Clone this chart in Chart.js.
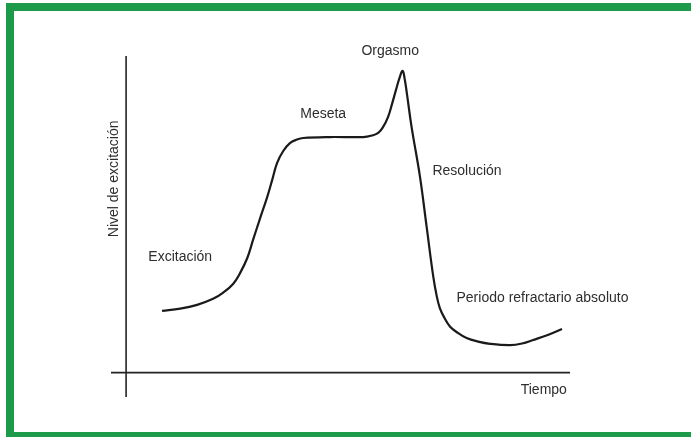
<!DOCTYPE html>
<html>
<head>
<meta charset="utf-8">
<script src="https://cdn.jsdelivr.net/npm/chart.js@4/dist/chart.umd.min.js"></script>
<style>
  html, body { margin: 0; padding: 0; background: #fff; overflow: hidden; }
  body { width: 691px; height: 437px; position: relative; }
  .bar { position: absolute; background: #1d994a; }
  #top { left: 6px; top: 3px; width: 685px; height: 8px; }
  #left { left: 6px; top: 3px; width: 8px; height: 434px; }
  #bottom { left: 6px; top: 432px; width: 685px; height: 5px; }
  #wrap { position: absolute; left: 0; top: 0; width: 691px; height: 437px; overflow: hidden; }
  #c { display: block; }
</style>
</head>
<body>
<div class="bar" id="top"></div>
<div class="bar" id="left"></div>
<div class="bar" id="bottom"></div>
<div id="wrap"><canvas id="c" width="691" height="437"></canvas></div>
<script>
// Time (x) and arousal level (y) of the response curve
const tiempo = [8.1, 12.2, 16.0, 19.6, 21.8, 24.1, 25.7, 27.3, 28.6, 30.2, 31.8, 32.9, 34.0, 35.4, 36.9, 38.5, 39.9,
  45.9, 53.4, 55.4, 56.8, 57.9, 59.0, 59.9, 60.8, 61.6, 62.3, 62.8, 63.3, 64.3, 66.2, 67.7, 69.2, 70.0, 70.7,
  71.6, 73.0, 74.8, 76.7, 79.3, 82.0, 86.5, 89.2, 91.7, 95.0, 98.2];
const nivel = [19.5, 20.2, 21.4, 23.3, 25.2, 28.0, 31.5, 36.2, 41.9, 48.8, 55.5, 60.8, 66.2, 70.0, 72.5, 73.6, 74.1,
  74.4, 74.4, 74.9, 75.7, 77.6, 80.7, 84.8, 89.3, 93.1, 95.3, 92.4, 87.7, 77.7, 61.9, 46.1, 30.3, 24.0, 20.3,
  17.6, 14.5, 12.5, 10.9, 9.8, 9.1, 8.7, 9.2, 10.3, 11.9, 13.8];

// Phase labels and where they sit (data units)
const fases = ["Orgasmo", "Meseta", "Excitación", "Resolución", "Periodo refractario absoluto"];
const faseT = [59.5, 44.4, 12.2, 76.8, 93.8];
const faseN = [101.6, 81.7, 36.5, 63.7, 23.6];

const ejeX = "Tiempo";
const ejeY = "Nivel de excitación";

// axis range
const tMin = -3.4, tMax = 100;
const nMin = -7.7, nMax = 100;

const curve = tiempo.map((t, i) => ({ x: t, y: nivel[i] }));
const axisV = [{ x: 0, y: nMin }, { x: 0, y: nMax }];
const axisH = [{ x: tMin, y: 0 }, { x: tMax, y: 0 }];

const FONT = '14px "Liberation Sans", Arial, sans-serif';
const TXT = '#2e2e2e';

const labelPlugin = {
  id: 'labels',
  afterDatasetsDraw(chart) {
    const { ctx, scales: { x, y } } = chart;
    ctx.save();
    ctx.font = FONT;
    ctx.fillStyle = TXT;
    ctx.textBaseline = 'middle';
    ctx.textAlign = 'center';
    fases.forEach((f, i) => {
      ctx.fillText(f, x.getPixelForValue(faseT[i]), y.getPixelForValue(faseN[i]));
    });
    ctx.textAlign = 'right';
    ctx.fillText(ejeX, x.getPixelForValue(99.3), y.getPixelForValue(-5.6));
    ctx.translate(x.getPixelForValue(-2.7), y.getPixelForValue(61.2));
    ctx.rotate(-Math.PI / 2);
    ctx.textAlign = 'center';
    ctx.fillText(ejeY, 0, 0);
    ctx.restore();
  }
};

new Chart(document.getElementById('c'), {
  type: 'scatter',
  data: {
    datasets: [
      { data: axisV, showLine: true, borderColor: '#222', borderWidth: 1.6, pointRadius: 0, clip: false },
      { data: axisH, showLine: true, borderColor: '#222', borderWidth: 1.6, pointRadius: 0, clip: false },
      { data: curve, showLine: true, borderColor: '#1a1a1a', borderWidth: 2.2, pointRadius: 0,
        tension: 0.4, borderJoinStyle: 'round', clip: false }
    ]
  },
  options: {
    responsive: false,
    animation: false,
    events: [],
    layout: { padding: { left: 111, right: 121, top: 56, bottom: 40 } },
    plugins: { legend: { display: false }, tooltip: { enabled: false } },
    scales: {
      x: { type: 'linear', min: tMin, max: tMax, display: false },
      y: { type: 'linear', min: nMin, max: nMax, display: false }
    }
  },
  plugins: [labelPlugin]
});
</script>
</body>
</html>
